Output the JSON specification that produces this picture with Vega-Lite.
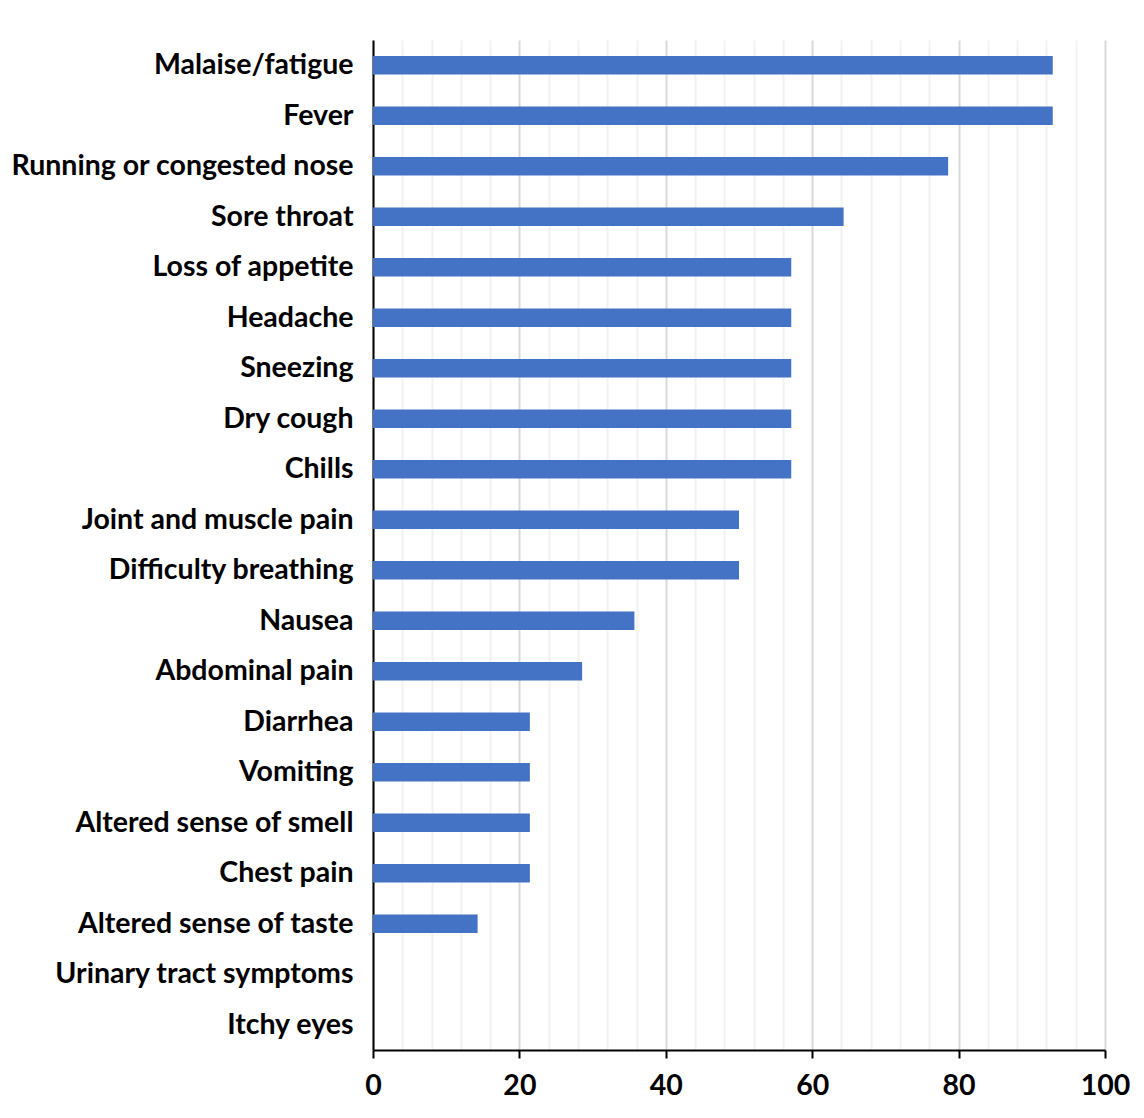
{
  "$schema": "https://vega.github.io/schema/vega-lite/v6.json",
  "width": 732,
  "height": 1010,
  "autosize": {"type": "none"},
  "padding": {"left": 373, "top": 40, "right": 39, "bottom": 68},
  "background": "white",
  "config": {"view": {"stroke": null}, "font": "Lato"},
  "data": {"values": [
    {"symptom": "Malaise/fatigue", "pct": 92.86},
    {"symptom": "Fever", "pct": 92.86},
    {"symptom": "Running or congested nose", "pct": 78.57},
    {"symptom": "Sore throat", "pct": 64.29},
    {"symptom": "Loss of appetite", "pct": 57.14},
    {"symptom": "Headache", "pct": 57.14},
    {"symptom": "Sneezing", "pct": 57.14},
    {"symptom": "Dry cough", "pct": 57.14},
    {"symptom": "Chills", "pct": 57.14},
    {"symptom": "Joint and muscle pain", "pct": 50},
    {"symptom": "Difficulty breathing", "pct": 50},
    {"symptom": "Nausea", "pct": 35.71},
    {"symptom": "Abdominal pain", "pct": 28.57},
    {"symptom": "Diarrhea", "pct": 21.43},
    {"symptom": "Vomiting", "pct": 21.43},
    {"symptom": "Altered sense of smell", "pct": 21.43},
    {"symptom": "Chest pain", "pct": 21.43},
    {"symptom": "Altered sense of taste", "pct": 14.29},
    {"symptom": "Urinary tract symptoms", "pct": 0},
    {"symptom": "Itchy eyes", "pct": 0}
  ]},
  "mark": {"type": "bar", "color": "#4472c4"},
  "encoding": {
    "y": {
      "field": "symptom", "type": "nominal", "sort": null,
      "scale": {"paddingInner": 0.63, "paddingOuter": 0.315},
      "axis": {
        "title": null, "ticks": false, "labelPadding": 20,
        "labelFontSize": 28.5, "labelFontWeight": "bold", "labelColor": "#000000",
        "domainColor": "#000000", "domainWidth": 2, "grid": false, "labelLimit": 400
      }
    },
    "x": {
      "field": "pct", "type": "quantitative",
      "scale": {"domain": [0, 100], "nice": false},
      "axis": {
        "title": null,
        "values": [0,4,8,12,16,20,24,28,32,36,40,44,48,52,56,60,64,68,72,76,80,84,88,92,96,100],
        "labelExpr": "datum.value % 20 === 0 ? datum.label : ''",
        "labelFontSize": 28.5, "labelFontWeight": "bold", "labelColor": "#000000",
        "labelPadding": 13, "labelOverlap": false, "labelFlush": false,
        "domainColor": "#000000", "domainWidth": 2,
        "tickSize": 8, "tickWidth": 2,
        "tickColor": {"condition": {"test": "datum.value % 20 === 0", "value": "#000000"}, "value": "transparent"},
        "grid": true, "gridWidth": 2,
        "gridColor": {"condition": {"test": "datum.value % 20 === 0", "value": "#d9d9d9"}, "value": "#f2f2f2"}
      }
    }
  }
}
